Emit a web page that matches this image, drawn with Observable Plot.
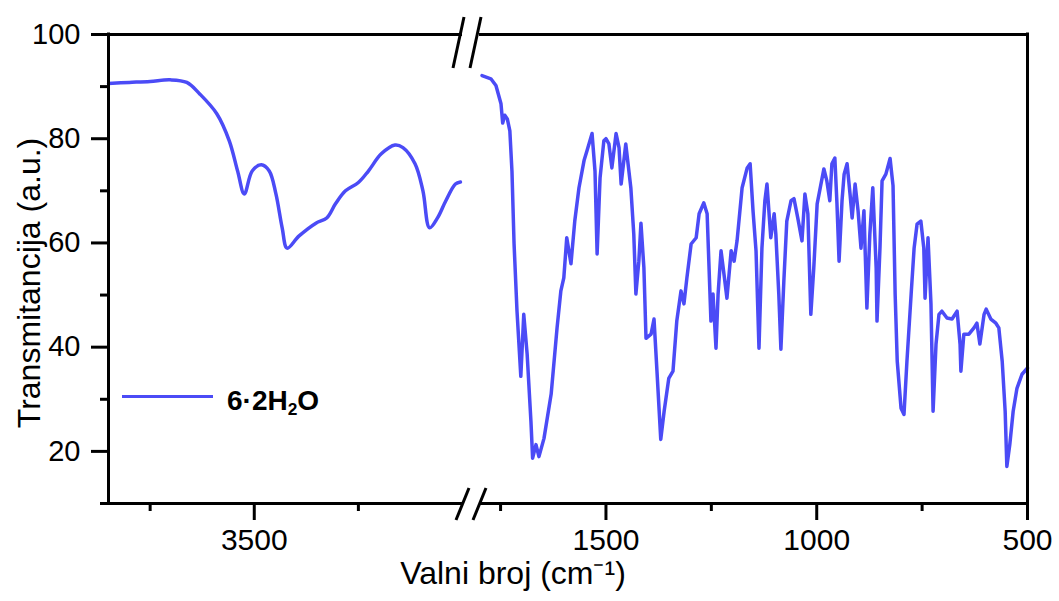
<!DOCTYPE html>
<html>
<head>
<meta charset="utf-8">
<script src="https://cdn.jsdelivr.net/npm/d3@7"></script>
<script src="https://cdn.jsdelivr.net/npm/@observablehq/plot@0.6"></script>
<style>
  body { margin: 0; background: #ffffff; }
  #wrap { position: relative; width: 1059px; height: 601px; font-family: "Liberation Sans", Arial, sans-serif; }
  #legend { position: absolute; left: 122px; top: 385px; display: flex; align-items: center; white-space: nowrap; }
  #legend .swatch { width: 91px; height: 3.5px; margin-right: 14px; margin-top: -12px; }
  #legend .name { font-weight: bold; font-size: 28px; color: #000; }
  #legend sub { font-size: 0.62em; vertical-align: -0.3em; }
</style>
</head>
<body>
<div id="wrap"></div>
<script>
// ---- data (wavenumber in cm^-1, transmittance in a.u.) ----
const leftWavenumber = [3850, 3800, 3750, 3702, 3662, 3631, 3590, 3560, 3540, 3524, 3505, 3483, 3464, 3448, 3433, 3421,
  3393, 3352, 3326, 3305, 3281, 3250, 3226, 3195, 3162, 3143, 3114, 3095, 3079, 3060, 3040, 3017, 3005];
const leftTransmittance = [90.6, 90.8, 91.0, 91.3, 90.8, 88.6, 84.8, 79.6, 73.8, 69.4, 73.8, 75.0, 73.8, 69.4, 62.9, 59.0,
  61.3, 63.8, 64.8, 67.5, 70.0, 71.6, 73.8, 77.1, 78.8, 78.3, 75.2, 70.0, 62.9, 64.8, 68.1, 71.3, 71.7];

const rightWavenumber = [1794, 1773, 1761, 1749, 1745, 1740, 1734, 1728, 1723, 1718, 1711, 1702, 1695, 1687, 1678, 1674,
  1666, 1659, 1647, 1630, 1616, 1607, 1600, 1593, 1583, 1574, 1564, 1552, 1545, 1533, 1526, 1521, 1514, 1505, 1500, 1493,
  1486, 1476, 1469, 1464, 1453, 1441, 1434, 1429, 1422, 1417, 1410, 1405, 1393, 1386, 1379, 1370, 1362, 1351, 1341, 1332,
  1322, 1315, 1308, 1298, 1286, 1279, 1268, 1260, 1256, 1251, 1246, 1239, 1234, 1227, 1220, 1213, 1203, 1196, 1189, 1177,
  1165, 1158, 1151, 1144, 1137, 1130, 1123, 1118, 1109, 1101, 1097, 1090, 1085, 1078, 1071, 1061, 1054, 1045, 1035, 1028,
  1021, 1014, 1007, 999, 990, 983, 976, 969, 964, 957, 952, 947, 940, 935, 928, 921, 916, 909, 902, 895,
  888, 881, 874, 867, 859, 857, 850, 845, 836, 826, 819, 814, 809, 800, 793, 786, 776, 769, 762, 753,
  746, 743, 736, 729, 724, 717, 710, 703, 691, 679, 667, 660, 658, 651, 639, 627, 620, 613, 603, 598,
  587, 575, 568, 560, 553, 549, 542, 534, 525, 513, 500];
const rightTransmittance = [92.1, 91.5, 90.2, 86.7, 83.0, 84.5, 83.8, 81.5, 73.8, 59.8, 46.9, 34.4, 46.3, 38.7, 25.8, 18.7,
  21.3, 19.0, 22.5, 31.0, 43.7, 50.8, 53.3, 61.0, 56.0, 64.2, 70.6, 75.8, 77.7, 81.0, 73.8, 57.9, 72.5, 79.6, 80.0, 79.0,
  74.4, 81.0, 78.3, 71.3, 79.0, 70.6, 61.7, 50.2, 56.5, 63.8, 55.2, 41.7, 42.5, 45.4, 35.4, 22.3, 27.7, 34.0, 35.4, 45.0,
  50.8, 48.3, 53.3, 59.8, 61.0, 65.6, 67.7, 65.6, 56.5, 45.0, 50.2, 39.8, 50.2, 58.5, 54.0, 49.4, 58.5, 56.5, 60.4, 70.6,
  74.4, 75.2, 66.0, 58.5, 39.8, 59.0, 68.1, 71.3, 61.0, 65.6, 61.7, 50.2, 39.6, 52.7, 64.2, 68.1, 68.5, 64.8, 60.4, 69.4,
  65.6, 46.3, 55.2, 67.5, 71.3, 74.2, 71.9, 68.1, 75.2, 76.3, 67.5, 56.5, 68.1, 73.2, 75.2, 69.4, 64.8, 71.3, 66.2, 59.0,
  66.2, 47.5, 61.7, 70.6, 55.2, 45.0, 59.0, 71.9, 73.2, 76.2, 71.0, 50.2, 37.3, 28.3, 27.1, 37.3, 50.2, 59.0, 63.6, 64.2,
  59.0, 49.4, 61.0, 48.3, 27.7, 40.6, 46.3, 46.9, 45.6, 45.4, 46.9, 40.6, 35.4, 42.5, 42.5, 43.7, 44.6, 40.6, 46.3, 47.3,
  45.4, 44.6, 43.7, 37.3, 27.7, 17.1, 21.3, 27.7, 32.1, 34.8, 36.0];

const xSegments = [[3850, 3000], [1800, 500]];   // broken x axis: two panels
const xMajorTicks = [3500, 1500, 1000, 500];
const xMinorTicks = [3750, 3250, 1750, 1250, 750];
const yMajorTicks = [20, 40, 60, 80, 100];
const yMinorTicks = [10, 30, 50, 70, 90];
const yDomain = [10, 100];
const xTitle = "Valni broj (cm⁻¹)";
const yTitle = "Transmitancija (a.u.)";
const seriesName = ["6·2H", "2", "O"];
const lineColor = "#4b4bf6";

// ---- build ----
const leftData = leftWavenumber.map((w, i) => ({w, t: leftTransmittance[i]}));
const rightData = rightWavenumber.map((w, i) => ({w, t: rightTransmittance[i]}));
const segs = xSegments.map(([a, b]) => ({a, b}));

const W = 1059, H = 601;
const chart = Plot.plot({
  width: W,
  height: H,
  marginTop: 34,
  marginBottom: 98,
  marginLeft: 108,
  marginRight: 32,
  style: {fontFamily: '"Liberation Sans", Arial, sans-serif', background: "#ffffff", color: "#000"},
  x: {type: "linear", domain: [xSegments[0][0], xSegments[0][1], xSegments[1][0], xSegments[1][1]], range: [108, 462, 479, 1027]},
  y: {domain: yDomain},
  marks: [
    Plot.line(leftData, {x: "w", y: "t", stroke: lineColor, strokeWidth: 3.5, curve: "catmull-rom"}),
    Plot.line(rightData, {x: "w", y: "t", stroke: lineColor, strokeWidth: 3.5}),
    // frame pieces
    Plot.ruleY(segs, {y: yDomain[1], x1: "a", x2: "b", strokeWidth: 3}),
    Plot.ruleY(segs, {y: yDomain[0], x1: "a", x2: "b", strokeWidth: 3}),
    Plot.ruleX([xSegments[0][0], xSegments[1][1]], {y1: yDomain[0], y2: yDomain[1], strokeWidth: 3, strokeLinecap: "square"}),
    // axes
    Plot.axisY(yMajorTicks, {tickSize: 17, tickPadding: 11, fontSize: 29, strokeWidth: 3, label: null}),
    Plot.axisY(yMinorTicks, {tickSize: 8, tickFormat: () => "", strokeWidth: 3, label: null}),
    Plot.axisX(xMajorTicks, {tickSize: 17, tickPadding: 8, fontSize: 30, strokeWidth: 3, label: null, tickFormat: d => String(d)}),
    Plot.axisX(xMinorTicks, {tickSize: 8, tickFormat: () => "", strokeWidth: 3, label: null}),
    // titles
    Plot.text([xTitle], {frameAnchor: "bottom", dx: -55, dy: 80, fontSize: 32}),
    Plot.text([yTitle], {frameAnchor: "left", textAnchor: "middle", rotate: -90, dx: -79, dy: 14, fontSize: 32})
  ]
});

// break marks on the axis, placed with the chart's own scales
const sx = chart.scale("x"), sy = chart.scale("y");
const svg = d3.select(chart);
const gap = [sx.apply(xSegments[0][1]), sx.apply(xSegments[1][0])];
const yTop = sy.apply(yDomain[1]), yBot = sy.apply(yDomain[0]);
const g = svg.append("g").attr("stroke", "#000").attr("stroke-width", 3);
gap.forEach(xb => {
  g.append("line").attr("x1", xb - 9).attr("y1", yTop + 34).attr("x2", xb + 2).attr("y2", yTop - 17);
  g.append("line").attr("x1", xb - 6).attr("y1", yBot + 17).attr("x2", xb + 7).attr("y2", yBot - 15);
});

const wrap = document.getElementById("wrap");
wrap.appendChild(chart);
const legend = document.createElement("div");
legend.id = "legend";
legend.innerHTML = `<div class="swatch" style="background:${lineColor}"></div><span class="name">${seriesName[0]}<sub>${seriesName[1]}</sub>${seriesName[2]}</span>`;
wrap.appendChild(legend);
</script>
</body>
</html>
